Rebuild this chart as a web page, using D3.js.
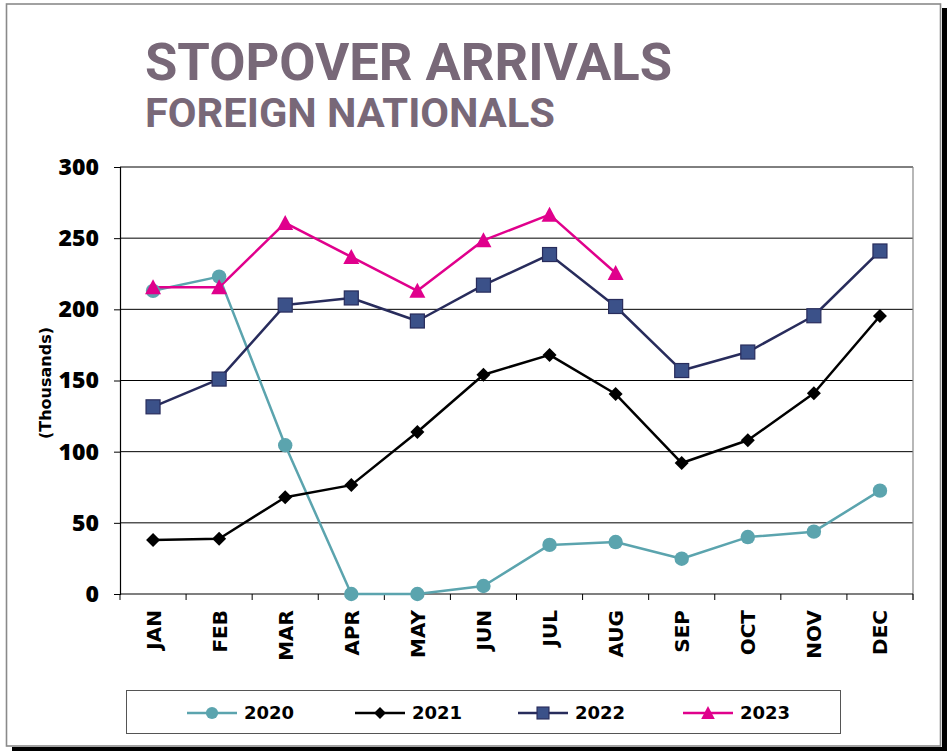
<!DOCTYPE html>
<html>
<head>
<meta charset="utf-8">
<script src="https://cdn.jsdelivr.net/npm/d3@7"></script>
<style>
  html, body { margin: 0; padding: 0; background: #fff; }
  svg { display: block; }
  text { font-family: "DejaVu Sans", sans-serif; font-weight: bold; }
</style>
</head>
<body>
<svg id="chart" width="947" height="751"></svg>
<script>
const months = ["JAN","FEB","MAR","APR","MAY","JUN","JUL","AUG","SEP","OCT","NOV","DEC"];
const yTicks = [0, 50, 100, 150, 200, 250, 300];
const v2020 = [213, 223, 104.5, 0, 0, 5.6, 34.5, 36.5, 24.8, 40, 43.8, 72.6];
const v2021 = [37.9, 38.8, 68, 76.5, 113.8, 154, 168, 140.5, 92, 108, 141, 195.3];
const v2022 = [131.5, 151, 203, 208, 191.8, 217, 238.5, 202, 157, 170, 195.5, 241];
const v2023 = [215.5, 215.5, 260.7, 236.8, 213, 248.5, 266.5, 225.5];
const seriesNames = ["2020", "2021", "2022", "2023"];

const svg = d3.select("#chart");

// frame with shadow
svg.append("rect").attr("x", 942).attr("y", 8).attr("width", 5).attr("height", 743).attr("fill", "#000");
svg.append("rect").attr("x", 12).attr("y", 747).attr("width", 935).attr("height", 4).attr("fill", "#000");
svg.append("rect").attr("x", 6.5).attr("y", 4).attr("width", 934).attr("height", 742)
  .attr("fill", "#fff").attr("stroke", "#8a8a8a").attr("stroke-width", 1.6);

// titles
const titleColor = "#786878";
svg.append("text").attr("x", 145).attr("y", 80).attr("fill", titleColor)
  .attr("font-size", 52).attr("textLength", 527).attr("lengthAdjust", "spacingAndGlyphs")
  .style("font-family", "Roboto, sans-serif").style("font-weight", "bold")
  .text("STOPOVER ARRIVALS");
svg.append("text").attr("x", 145).attr("y", 127).attr("fill", titleColor)
  .attr("font-size", 40).attr("textLength", 410).attr("lengthAdjust", "spacingAndGlyphs")
  .style("font-family", "Roboto, sans-serif").style("font-weight", "bold")
  .text("FOREIGN NATIONALS");

// scales
const pLeft = 120, pRight = 913, pTop = 167, pBottom = 594;
const x = d3.scaleBand().domain(months).range([pLeft, pRight]).padding(0);
const y = d3.scaleLinear().domain([0, 300]).range([pBottom, pTop]);
const cx = m => x(m) + x.bandwidth() / 2;

// gridlines
svg.append("g").selectAll("line").data(yTicks.filter(d => d > 0)).join("line")
  .attr("x1", pLeft).attr("x2", pRight).attr("y1", d => y(d)).attr("y2", d => y(d))
  .attr("stroke", "#000").attr("stroke-width", 1);

// right border
svg.append("line").attr("x1", pRight).attr("x2", pRight).attr("y1", pTop).attr("y2", pBottom + 6)
  .attr("stroke", "#888").attr("stroke-width", 1.2);

// y axis
const yAxis = svg.append("g").attr("transform", `translate(${pLeft},0)`)
  .call(d3.axisLeft(y).tickValues(yTicks).tickSize(6).tickPadding(15));
yAxis.select(".domain").attr("stroke", "#000").attr("stroke-width", 1.2);
yAxis.selectAll(".tick line").attr("stroke", "#000");
yAxis.selectAll(".tick text").attr("font-size", 23).attr("fill", "#000")
  .style("font-family", "'Open Sans', sans-serif").style("font-weight", 800);

// x axis: baseline + boundary ticks
svg.append("line").attr("x1", pLeft).attr("x2", pRight).attr("y1", pBottom).attr("y2", pBottom)
  .attr("stroke", "#000").attr("stroke-width", 1.2);
const bounds = months.map(m => x(m)).concat([pRight]);
svg.append("g").selectAll("line").data(bounds).join("line")
  .attr("x1", d => d).attr("x2", d => d).attr("y1", pBottom).attr("y2", pBottom + 6)
  .attr("stroke", "#000").attr("stroke-width", 1);
svg.append("g").selectAll("text").data(months).join("text")
  .attr("transform", d => `translate(${cx(d) + 7.5},${pBottom + 16}) rotate(-90)`)
  .attr("text-anchor", "end").attr("font-size", 20).attr("fill", "#000")
  .text(d => d);

// y-axis title
svg.append("text").attr("transform", `translate(51,383) rotate(-90)`)
  .attr("text-anchor", "middle").attr("font-size", 16).attr("fill", "#000")
  .text("(Thousands)");

// series
const series = [
  { name: "2020", values: v2020, color: "#5ba4ae", fill: "#5ba4ae", stroke: "#5ba4ae", shape: "circle" },
  { name: "2021", values: v2021, color: "#000000", fill: "#000000", stroke: "#000000", shape: "diamond" },
  { name: "2022", values: v2022, color: "#282c5c", fill: "#3b5189", stroke: "#282c5c", shape: "square" },
  { name: "2023", values: v2023, color: "#e0008c", fill: "#e0008c", stroke: "#e0008c", shape: "triangle" }
];

function marker(g, s, scale) {
  const k = scale || 1;
  if (s.shape === "circle") {
    g.append("circle").attr("r", 7.2 * k).attr("fill", s.fill);
  } else if (s.shape === "diamond") {
    const r = 7 * k;
    g.append("path").attr("d", `M0,${-r}L${r},0L0,${r}L${-r},0Z`).attr("fill", s.fill);
  } else if (s.shape === "square") {
    const h = 7 * k;
    g.append("rect").attr("x", -h).attr("y", -h).attr("width", 2 * h).attr("height", 2 * h)
      .attr("fill", s.fill).attr("stroke", s.stroke).attr("stroke-width", 1.2);
  } else if (s.shape === "triangle") {
    const w = 8 * k, h = 7 * k;
    g.append("path").attr("d", `M0,${-h - 1}L${w},${h}L${-w},${h}Z`).attr("fill", s.fill);
  }
}

const line = d3.line().x((d, i) => cx(months[i])).y(d => y(d));
series.forEach(s => {
  svg.append("path").datum(s.values).attr("d", line)
    .attr("fill", "none").attr("stroke", s.color).attr("stroke-width", 2.5)
    .attr("stroke-linejoin", "round");
});
series.forEach(s => {
  s.values.forEach((v, i) => {
    const g = svg.append("g").attr("transform", `translate(${cx(months[i])},${y(v)})`);
    marker(g, s);
  });
});

// legend
svg.append("rect").attr("x", 126.5).attr("y", 690.5).attr("width", 714).attr("height", 43)
  .attr("fill", "#fff").attr("stroke", "#555").attr("stroke-width", 1);
const legendX = [187, 355, 518, 683];
series.forEach((s, i) => {
  const g = svg.append("g").attr("transform", `translate(${legendX[i]},713)`);
  g.append("line").attr("x1", 0).attr("x2", 50).attr("y1", 0).attr("y2", 0)
    .attr("stroke", s.color).attr("stroke-width", 2.5);
  const mg = g.append("g").attr("transform", "translate(25,0)");
  marker(mg, s, 0.85);
  g.append("text").attr("x", 57).attr("y", 0).attr("dy", "0.36em")
    .attr("font-size", 18).attr("fill", "#000").text(seriesNames[i]);
});
</script>
</body>
</html>
